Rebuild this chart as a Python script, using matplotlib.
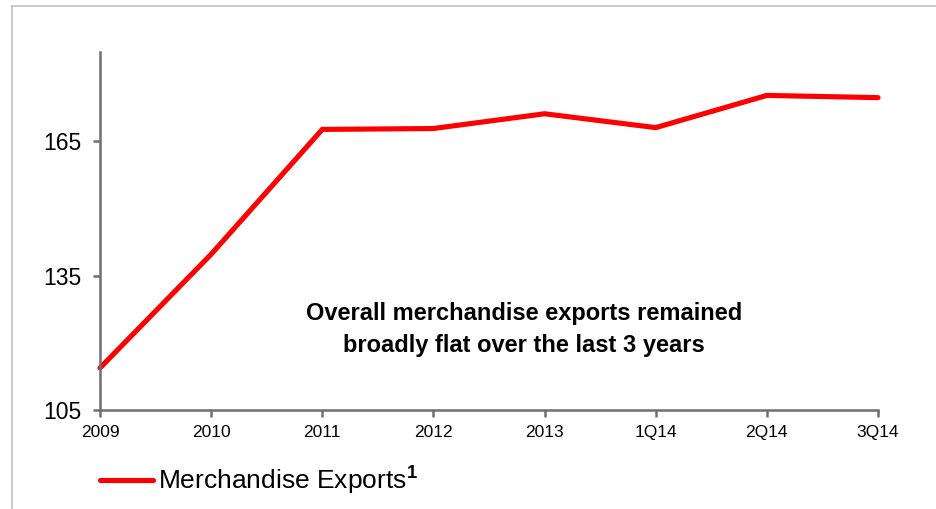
import numpy as np
import matplotlib.pyplot as plt
from matplotlib.lines import Line2D

plt.rcParams['font.family'] = ['Liberation Sans', 'DejaVu Sans']
plt.rcParams['mathtext.fontset'] = 'custom'
plt.rcParams['mathtext.rm'] = 'Liberation Sans'
plt.rcParams['mathtext.bf'] = 'Liberation Sans:bold'

# Merchandise exports index by period
periods = ['2009', '2010', '2011', '2012', '2013', '1Q14', '2Q14', '3Q14']
exports = [114.4, 139.8, 167.7, 167.9, 171.2, 168.1, 175.3, 174.8]
y_ticks = [105, 135, 165]

axis_grey = '#6e6e73'

fig = plt.figure(figsize=(9.36, 5.09), dpi=100)
ax = fig.add_axes([100/936, 1 - 410/509, 778/936, 358/509])

x = np.arange(len(periods))
ax.plot(x, exports, color='#ff0000', lw=3.7, solid_joinstyle='miter',
        solid_capstyle='round', label='Merchandise Exports$^{\\mathbf{1}}$',
        clip_on=False)

ax.set_xlim(0, len(periods) - 1)
ax.set_ylim(105, 185)
ax.set_xticks(x)
ax.set_xticklabels(periods, fontsize=12.5)
ax.set_yticks(y_ticks)
ax.set_yticklabels([str(v) for v in y_ticks], fontsize=16.5)

for side in ['top', 'right']:
    ax.spines[side].set_visible(False)
for side in ['left', 'bottom']:
    ax.spines[side].set_color(axis_grey)
    ax.spines[side].set_linewidth(1.8)

ax.tick_params(axis='x', direction='out', length=5, width=1.8, color=axis_grey, pad=6)
ax.tick_params(axis='y', direction='out', length=5, width=1.8, color=axis_grey, pad=8)

ax.text(0.545, 0.225, 'Overall merchandise exports remained\nbroadly flat over the last 3 years',
        transform=ax.transAxes, ha='center', va='center', fontsize=17,
        fontweight='bold', linespacing=1.55)

ax.legend(loc='center left', bbox_to_anchor=(0.0, -0.195), frameon=False,
          fontsize=19, handlelength=2.0, handletextpad=0.2, borderpad=0,
          borderaxespad=0)

# light frame on the left and top edges
fig.add_artist(Line2D([12/936, 12/936], [0, 1 - 6/509], color='#c0c0c0', lw=1.2,
                      transform=fig.transFigure))
fig.add_artist(Line2D([12/936, 1], [1 - 6/509, 1 - 6/509], color='#c0c0c0', lw=1.2,
                      transform=fig.transFigure))

fig.savefig('out.png', dpi=100)
